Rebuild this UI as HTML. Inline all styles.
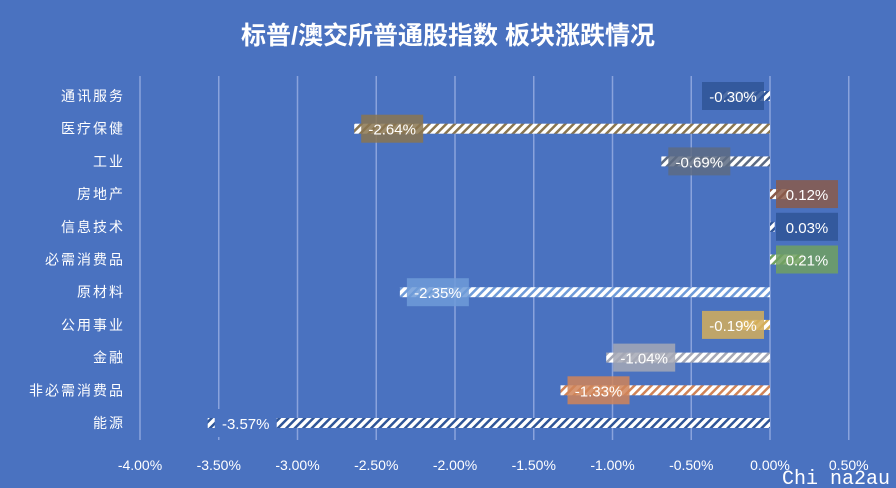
<!DOCTYPE html>
<html><head><meta charset="utf-8"><style>
body{margin:0;background:#4a72c0;}
svg{display:block;font-family:"Liberation Sans","Noto Sans CJK SC",sans-serif;}
</style></head><body>
<svg id="c" width="896" height="488">
<rect width="896" height="488" fill="#4a72c0"/>
<text x="448" y="44" text-anchor="middle" font-size="25" font-weight="bold" fill="#fff">标普/澳交所普通股指数 板块涨跌情况</text>
<g id="grid"></g><g id="bars"></g><g id="ylab"></g><g id="xlab"></g>
<text x="782" y="484" font-size="20" fill="#fff" font-family="Liberation Mono,monospace">Chi na2au</text>
</svg>
<script>
const categories=["通讯服务","医疗保健","工业","房地产","信息技术","必需消费品","原材料","公用事业","金融","非必需消费品","能源"];
const values=[-0.30,-2.64,-0.69,0.12,0.03,0.21,-2.35,-0.19,-1.04,-1.33,-3.57];
const colors=["#2f5597","#8a7650","#5d6b82","#8a5a4a","#2f5597","#70a060","#6f9bd8","#d4ae5a","#a5a8b5","#d08458","#4a72c0"];
const ticks=[-4,-3.5,-3,-2.5,-2,-1.5,-1,-0.5,0,0.5];
const NS="http://www.w3.org/2000/svg";
const x=v=>770+v*157.5, y=i=>96+i*32.7;
function mk(t,a,p){const e=document.createElementNS(NS,t);for(const k in a)e.setAttribute(k,a[k]);p.appendChild(e);return e;}
const svg=document.getElementById('c');
const defs=mk('defs',{},svg);
colors.forEach((c,i)=>{const p=mk('pattern',{id:'h'+i,width:6,height:6,patternUnits:'userSpaceOnUse',patternTransform:'rotate(45)'},defs);
mk('rect',{width:6,height:6,fill:'#fff'},p);mk('rect',{width:2.5,height:6,fill:i==10?'#2f5597':c},p);});
const G=document.getElementById('grid');
ticks.forEach(t=>{const l=mk('line',{x1:x(t),x2:x(t),y1:76,y2:440,stroke:'#8aa3dc','stroke-width':1.5},G);

const tx=mk('text',{x:x(t),y:470,'text-anchor':'middle','font-size':14,fill:'#fff'},document.getElementById('xlab'));
tx.textContent=t.toFixed(2)+'%';});
const B=document.getElementById('bars');
categories.forEach((c,i)=>{const v=values[i],yy=y(i);
const lt=mk('text',{x:125,y:yy+5,'text-anchor':'end','font-size':14,fill:'#fff','letter-spacing':'2'},document.getElementById('ylab'));
lt.textContent=c;
const x0=Math.min(x(0),x(v)),w=Math.max(Math.abs(x(v)-x(0)),3);
const r=mk('rect',{x:x0,y:yy-5,width:w,height:10,fill:'url(#h'+i+')'},B);

let bx;if(v>=0)bx=776;else{bx=x(v)+7;if(bx+62>764)bx=702;}
const bxr=mk('rect',{x:bx,y:yy-14,width:62,height:28,fill:colors[i],opacity:i==10?1:0.85},B);

const t=mk('text',{x:bx+31,y:yy+6,'text-anchor':'middle','font-size':15,fill:'#fff'},B);
t.textContent=v.toFixed(2)+'%';});
</script>
</body></html>
